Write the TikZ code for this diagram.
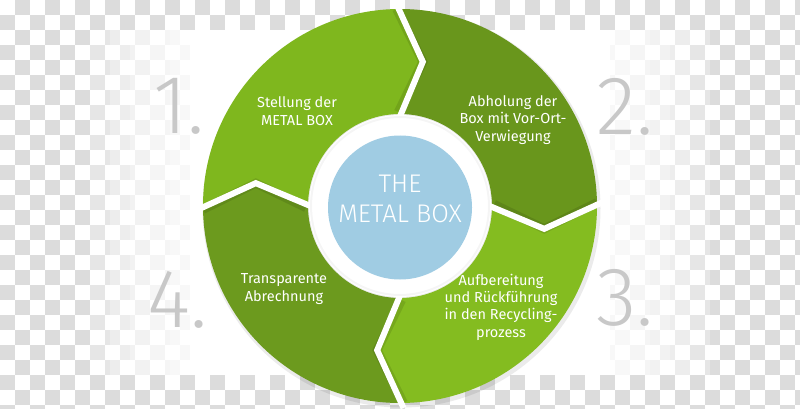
\documentclass[tikz,border=0pt]{standalone}
\usepackage{fontspec}
\setmainfont{Fira Sans}
\newfontfamily\lightfont{Fira Sans Light}
\definecolor{lightg}{HTML}{7FB71E}
\definecolor{darkg}{HTML}{69961C}
\definecolor{lightgb}{HTML}{84BC20}
\definecolor{darkgb}{HTML}{6C9A1E}
\definecolor{bluec}{HTML}{A0CCE3}
\definecolor{numgray}{HTML}{C8C8C8}
\definecolor{checker}{HTML}{DCDCDC}
\begin{document}
\begin{tikzpicture}[x=1pt,y=-1pt,
  lbl/.style={text=white, align=center, font=\fontsize{14.5}{17.3}\selectfont, inner sep=0pt},
  ctr/.style={text=white, align=center, font=\lightfont\fontsize{25.5}{30}\selectfont, inner sep=0pt},
  num/.style={text=numgray, font=\lightfont\fontsize{83}{83}\selectfont, anchor=base, inner sep=0pt},
  gapline/.style={draw=white, line width=6pt},
  gapshadow/.style={draw=black, opacity=0.1, line width=9pt}]
\useasboundingbox (0,0) rectangle (800,409);
\fill[white] (0,0) rectangle (800,409);
% checkerboard
\foreach \j in {0,2,...,26}{\foreach \i in {1,3,...,53}{\fill[checker] (15*\i,15*\j) rectangle ++(15,15);}}
\foreach \j in {1,3,...,27}{\foreach \i in {0,2,...,52}{\fill[checker] (15*\i,15*\j) rectangle ++(15,15);}}
% white panel with soft sides
\foreach \d in {100,80,60,40,20}{\fill[white,opacity=0.3] (190-\d,30) rectangle (610+\d,375);}
\fill[white] (190,30) rectangle (610,375);
% cycle
\begin{scope}[shift={(400,206)}, yscale=-1]
  \fill[black,opacity=0.08] (1.5,-2.5) circle (199);
  \fill[lightg] (181:197) arc[start angle=181,end angle=91,radius=197] -- (81:146) -- (91:92)
     arc[start angle=91,end angle=181,radius=92] -- (171:146) -- cycle;
  \fill[darkg] (91:197) arc[start angle=91,end angle=1,radius=197] -- (-9:146) -- (1:92)
     arc[start angle=1,end angle=91,radius=92] -- (81:146) -- cycle;
  \fill[lightgb] (1:197) arc[start angle=1,end angle=-89,radius=197] -- (-99:146) -- (-89:92)
     arc[start angle=-89,end angle=1,radius=92] -- (-9:146) -- cycle;
  \fill[darkgb] (-89:197) arc[start angle=-89,end angle=-179,radius=197] -- (-189:146) -- (-179:92)
     arc[start angle=-179,end angle=-89,radius=92] -- (-99:146) -- cycle;
  \foreach \t in {90,0,-90,180}{\draw[gapshadow] (\t+1:197) -- (\t-9:146) -- (\t+1:94);}
  \foreach \t in {90,0,-90,180}{\draw[gapline] (\t+1:202) -- (\t-9:146) -- (\t+1:86);}
  \fill[white] (0,0) circle (91);
  \draw[black,opacity=0.04,line width=2pt] (0,0) circle (89);
  \fill[bluec] (0,-1.5) circle (72);
\end{scope}
% texts
\node[ctr] (center) at (400,199) {THE\\METAL BOX};
\node[lbl] (s1) at (297,111) {Stellung der\\METAL BOX};
\node[lbl] (s2) at (513,120) {Abholung der\\Box mit Vor-Ort-\\Verwiegung};
\node[lbl] (s3) at (501,307) {Aufbereitung\\und Rückführung\\in den Recycling-\\prozess};
\node[lbl] (s4) at (284,289) {Transparente\\Abrechnung};
\node[num] (n1) at (179,134) {1.};
\node[num] (n2) at (625,135) {2.};
\node[num] (n3) at (625,325) {3.};
\node[num] (n4) at (178,327) {4.};
\end{tikzpicture}
\end{document}
